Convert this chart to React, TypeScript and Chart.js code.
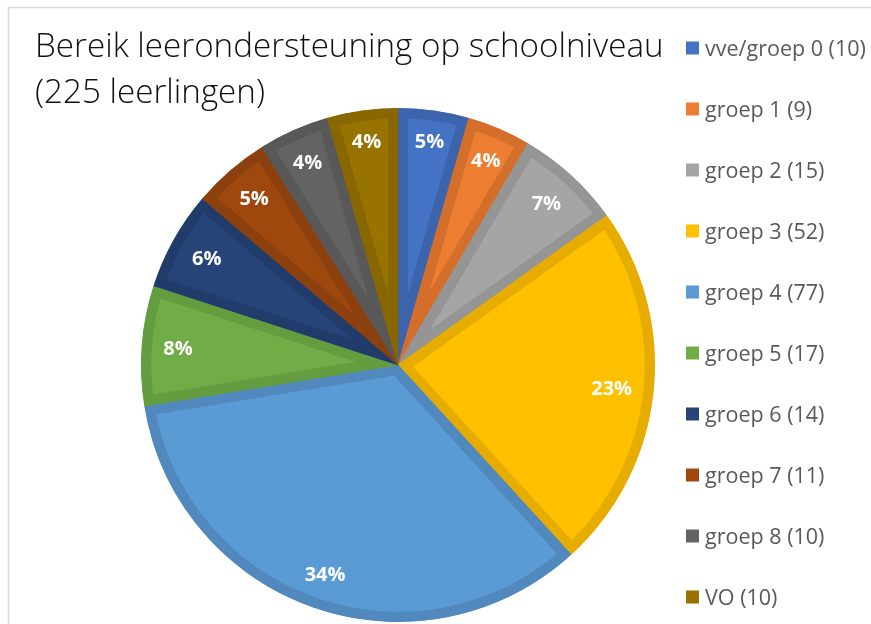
import React, { useEffect, useRef } from "react";
import { Chart, registerables } from "chart.js";

Chart.register(...registerables);

const categories = [
  "vve/groep 0",
  "groep 1",
  "groep 2",
  "groep 3",
  "groep 4",
  "groep 5",
  "groep 6",
  "groep 7",
  "groep 8",
  "VO",
];
const counts = [10, 9, 15, 52, 77, 17, 14, 11, 10, 10];
const percentLabels = ["5%", "4%", "7%", "23%", "34%", "8%", "6%", "5%", "4%", "4%"];
const fillColors = [
  "#4472C4",
  "#ED7D31",
  "#A5A5A5",
  "#FFC000",
  "#5B9BD5",
  "#70AD47",
  "#264478",
  "#9E480E",
  "#636363",
  "#997300",
];
const borderColors = [
  "#3B64AD",
  "#D46F2B",
  "#959595",
  "#E6AC00",
  "#5189BF",
  "#649C40",
  "#213C6B",
  "#8C400D",
  "#585858",
  "#886600",
];
const titleLines = ["Bereik leerondersteuning op schoolniveau", "(225 leerlingen)"];

const FONT = '"Open Sans", "Noto Sans", sans-serif';

const decorPlugin = {
  id: "decor",
  beforeDraw(chart: any) {
    const ctx: CanvasRenderingContext2D = chart.ctx;
    ctx.save();
    ctx.fillStyle = "#ffffff";
    ctx.fillRect(0, 0, chart.width, chart.height);
    ctx.strokeStyle = "#D9D9D9";
    ctx.lineWidth = 1.5;
    ctx.strokeRect(8.5, 7.5, chart.width + 20, chart.height + 20);
    ctx.restore();
  },
  afterDatasetsDraw(chart: any) {
    const ctx: CanvasRenderingContext2D = chart.ctx;
    const meta = chart.getDatasetMeta(0);
    ctx.save();
    const size = 20;
    ctx.font = `bold ${size}px ${FONT}`;
    ctx.fillStyle = "#ffffff";
    ctx.textAlign = "center";
    ctx.textBaseline = "alphabetic";
    const capH = 0.714 * size;
    meta.data.forEach((arc: any, i: number) => {
      const p = arc.getProps(["x", "y", "startAngle", "endAngle", "outerRadius"], true);
      const mid = (p.startAngle + p.endAngle) / 2;
      const c = Math.cos(mid);
      const s = Math.sin(mid);
      const text = percentLabels[i];
      const w = ctx.measureText(text).width;
      const extent = Math.abs(c) * (w / 2) + Math.abs(s) * (capH / 2 + 1);
      const d = p.outerRadius - 21 - extent;
      const cx = p.x + c * d;
      const cy = p.y + s * d;
      ctx.fillText(text, cx, cy + capH / 2);
    });
    ctx.restore();
  },
  afterDraw(chart: any) {
    const ctx: CanvasRenderingContext2D = chart.ctx;
    ctx.save();
    // Title
    ctx.textAlign = "left";
    ctx.textBaseline = "alphabetic";
    ctx.fillStyle = "#111111";
    ctx.font = `300 100px ${FONT}`;
    const tw = ctx.measureText(titleLines[0]).width;
    const tSize = (100 * 629) / tw;
    ctx.font = `300 ${tSize}px ${FONT}`;
    ctx.fillText(titleLines[0], 35, 57);
    ctx.fillText(titleLines[1], 35, 103);

    // Legend
    ctx.font = `400 100px ${FONT}`;
    const lw = ctx.measureText(`${categories[0]} (${counts[0]})`).width;
    const lSize = (100 * 161) / lw;
    ctx.font = `400 ${lSize}px ${FONT}`;
    const capH = 0.714 * lSize;
    categories.forEach((cat, i) => {
      const cy = 48 + 61 * i;
      ctx.fillStyle = fillColors[i];
      ctx.fillRect(686, cy - 6.5, 13, 13);
      ctx.fillStyle = "#595959";
      ctx.fillText(`${cat} (${counts[i]})`, 705, cy + capH / 2);
    });
    ctx.restore();
  },
};

export default function App() {
  const canvasRef = useRef<HTMLCanvasElement | null>(null);

  useEffect(() => {
    const canvas = canvasRef.current;
    if (!canvas) return;
    const chart = new Chart(canvas, {
      type: "pie",
      data: {
        labels: categories,
        datasets: [
          {
            data: counts,
            backgroundColor: fillColors,
            borderColor: borderColors,
            borderWidth: 10,
            borderAlign: "inner",
            hoverOffset: 0,
          } as any,
        ],
      },
      options: {
        responsive: false,
        animation: false,
        devicePixelRatio: 1,
        layout: { padding: { left: 141, right: 216, top: 108, bottom: 2 } },
        plugins: {
          legend: { display: false },
          tooltip: { enabled: false },
          title: { display: false },
        },
        events: [],
      },
      plugins: [decorPlugin],
    });
    return () => chart.destroy();
  }, []);

  return (
    <div
      style={{
        position: "fixed",
        left: 0,
        top: 0,
        width: 871,
        height: 624,
        background: "#ffffff",
        overflow: "hidden",
      }}
    >
      <canvas ref={canvasRef} width={871} height={624} style={{ width: 871, height: 624, display: "block" }} />
    </div>
  );
}
